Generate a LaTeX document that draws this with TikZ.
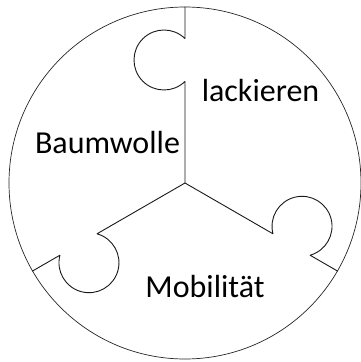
\documentclass[tikz,border=0pt]{standalone}
\usepackage{fontspec}
\setmainfont{Carlito}
\begin{document}
\begin{tikzpicture}[x=1pt,y=1pt,
  rimline/.style={draw=black!85, line width=0.7pt},
  seam/.style={draw=black!90, line width=0.9pt, line join=round},
  word/.style={anchor=base, inner sep=0pt, font=\fontsize{32}{38}\selectfont}]
  \useasboundingbox (-185,-179) rectangle (176,183);
  \coordinate (c) at (0,0);
  % outer disc
  \node[circle, rimline, minimum size=352pt, inner sep=0pt] (disc) at (c) {};
  % three seams, each with a round puzzle tab
  \foreach \ang/\nm in {90/top, -30/right, 210/left}{
    \begin{scope}[rotate=\ang]
      \coordinate (\nm-in) at (101.58,0);
      \coordinate (\nm-out) at (144.42,0);
    \end{scope}
    \draw[seam] (c) -- (\nm-in)
      [rotate=\ang] arc[start angle=-135.57, end angle=-404.43, radius=30pt]
      -- (disc.\ang);
  }
  % labels
  \node[word] (lack) at (75.5,81.3) {lackieren};
  \node[word] (baum) at (-77.5,30) {Baumwolle};
  \node[word] (mobi) at (20,-114) {Mobilität};
\end{tikzpicture}
\end{document}
